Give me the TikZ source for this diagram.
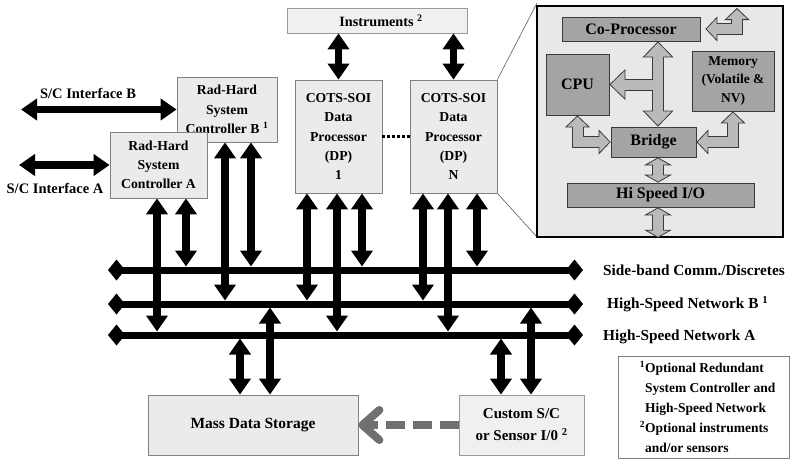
\documentclass[tikz,border=0pt]{standalone}
\usepackage{fontspec}
\setmainfont{Liberation Serif}
\usepackage{xcolor}
\usetikzlibrary{arrows.meta}

\definecolor{boxfill}{HTML}{EBEBEB}
\definecolor{boxline}{HTML}{808080}
\definecolor{softfill}{HTML}{F0F0F0}
\definecolor{softline}{HTML}{9A9A9A}
\definecolor{insetfill}{HTML}{E8E8E8}
\definecolor{cardfill}{HTML}{A4A4A4}
\definecolor{cardline}{HTML}{3A3A3A}
\definecolor{arrowgray}{HTML}{BABABA}
\definecolor{dashgray}{HTML}{707070}

\tikzset{
  bighead/.tip={Triangle[width=31pt,length=16pt,fill=arrowgray,line width=0.8pt]},
  elbhead/.tip={Triangle[width=25pt,length=12pt,fill=arrowgray,line width=0.8pt]},
  lowhead/.tip={Triangle[width=28pt,length=8pt,fill=arrowgray,line width=0.8pt]},
}

\begin{document}
\begin{tikzpicture}[x=1pt, y=-1pt,
  box/.style={draw=boxline, fill=boxfill, line width=0.8pt, align=center, inner sep=0pt,
    font=\fontsize{13.7}{19.2}\selectfont\bfseries},
  card/.style={draw=cardline, fill=cardfill, line width=0.8pt, align=center, inner sep=0pt,
    font=\fontsize{16}{19}\selectfont\bfseries},
  lbl/.style={inner sep=0pt, font=\fontsize{14.5}{17}\selectfont\bfseries},
  buslbl/.style={lbl, anchor=west, font=\fontsize{15.3}{17}\selectfont\bfseries},
  bus/.style={line width=7pt, arrows={Diamond[width=21pt,length=17pt]-Diamond[width=21pt,length=17pt]}},
  link/.style={line width=7.5pt, arrows={Triangle[width=21pt,length=16pt]-Triangle[width=21pt,length=16pt]}},
  blk/.style={draw=cardline, line width=12pt, line join=miter},
  core/.style 2 args={postaction={draw=arrowgray, line width=10pt, arrows=-, shorten <=#1, shorten >=#2}},
  zoomline/.style={draw=black!65, line width=0.6pt},
  dashlink/.style={draw=dashgray, line width=8pt, dash pattern=on 19pt off 8pt,
    -{Straight Barb[length=17pt,width=30pt,round]}},
]
  \useasboundingbox (0,0) rectangle (791,463);

  % Buses
  \coordinate (sbW) at (108,270); \coordinate (sbE) at (583,270);
  \coordinate (nbW) at (108,304); \coordinate (nbE) at (583,304);
  \coordinate (naW) at (108,335); \coordinate (naE) at (583,335);
  \draw[bus] (sbW) -- (sbE);
  \draw[bus] (nbW) -- (nbE);
  \draw[bus] (naW) -- (naE);
  \node[buslbl] (sbLbl) at (603,270) {Side-band Comm./Discretes};
  \node[buslbl] (nbLbl) at (607,304) {High-Speed Network B \textsuperscript{1}};
  \node[buslbl] (naLbl) at (603,337) {High-Speed Network A};

  % Controllers and processors
  \node[box, minimum width=100pt, minimum height=65pt] (ctrlB) at (227,109.5)
    {Rad-Hard\\System\\Controller B \textsuperscript{1}};
  \node[box, minimum width=97pt, minimum height=66pt] (ctrlA) at (158.5,165)
    {Rad-Hard\\System\\Controller A};
  \node[box, minimum width=87pt, minimum height=113pt] (dp1) at (338.5,136.5)
    {COTS-SOI\\Data\\Processor\\(DP)\\1};
  \node[box, minimum width=87pt, minimum height=113pt] (dpN) at (453.5,136.5)
    {COTS-SOI\\Data\\Processor\\(DP)\\N};
  \node[box, draw=softline, fill=softfill, minimum width=180pt, minimum height=25pt,
    font=\fontsize{14.2}{17}\selectfont\bfseries] (instr) at (377,20.5) {\hspace*{8pt}Instruments \textsuperscript{2}};
  \draw[line width=3pt, dash pattern=on 3pt off 2pt] (dp1.east) -- (dpN.west);

  % Interfaces
  \node[lbl] (ifBLbl) at (88,93) {S/C Interface B};
  \node[lbl] (ifALbl) at (55,188) {S/C Interface A};
  \draw[link] (ctrlB.west -| 21,0) -- (ctrlB.west);
  \draw[link] (ctrlA.west -| 19,0) -- (ctrlA.west);

  % Drops onto the buses
  \foreach \x/\from/\to in {157/ctrlA/naW, 186/ctrlA/sbW, 225/ctrlB/nbW, 251/ctrlB/sbW,
      307/dp1/nbW, 337/dp1/naW, 362/dp1/sbW, 423/dpN/nbW, 448/dpN/naW, 477/dpN/sbW}
    \draw[link, shorten >=3.5pt] (\from.south -| \x,0) -- (\to -| \x,0);
  \draw[link] (dp1.north |- instr.south) -- (dp1.north);
  \draw[link] (dpN.north |- instr.south) -- (dpN.north);

  % Storage and custom I/O
  \node[box, minimum width=210pt, minimum height=60pt,
    font=\fontsize{15.5}{19}\selectfont\bfseries] (mass) at (253,425) {Mass Data Storage};
  \node[box, draw=softline, fill=softfill, minimum width=125pt, minimum height=60pt,
    font=\fontsize{15}{22}\selectfont\bfseries] (custom) at (521.5,425)
    {Custom S/C\\or Sensor I/0 \textsuperscript{2}};
  \foreach \x/\to/\bus in {240/mass/naW, 270/mass/nbW, 501/custom/naW, 531/custom/nbW}
    \draw[link, shorten <=3.5pt] (\bus -| \x,0) -- (\to.north -| \x,0);
  \draw[dashlink] (custom.west) -- (mass.east);

  % Processor detail
  \draw[zoomline] (dpN.north east) -- (537,3);
  \draw[zoomline] (dpN.south east) -- (537,237);
  \node[draw=black, line width=1.5pt, fill=insetfill, minimum width=246pt, minimum height=231pt]
    (inset) at (660,121.5) {};
  \node[card, minimum width=138pt, minimum height=24pt] (cop) at (631,29) {Co-Processor};
  \node[card, minimum width=63pt, minimum height=61pt] (cpu) at (577.5,84.5) {CPU};
  \node[card, minimum width=82pt, minimum height=60pt, font=\fontsize{13.5}{18.5}\selectfont\bfseries]
    (mem) at (733,81) {Memory\\(Volatile \&\\NV)};
  \node[card, minimum width=85pt, minimum height=30pt] (bridge) at (653.5,142) {Bridge};
  \node[card, minimum width=187pt, minimum height=24pt] (hsio) at (660.5,195) {Hi Speed I/O};

  \coordinate (tee) at (653,84.5);
  \coordinate (cpTip) at ([xshift=5pt]cop.east);
  \coordinate (cpOut) at (737,8);
  \draw[blk, arrows={bighead-bighead}, core={15pt}{15pt}] (cop.south -| 658,0) -- (bridge.north -| 658,0);
  \draw[blk, arrows={-bighead}, core={-8pt}{15pt}] (tee) -- (cpu.east);
  \draw[blk, arrows={elbhead-elbhead}, core={11pt}{11pt}] (cpu.south) |- (bridge.west);
  \draw[blk, arrows={elbhead-elbhead}, core={11pt}{11pt}] (mem.south) |- (bridge.east);
  \draw[blk, arrows={elbhead-elbhead}, core={11pt}{11pt}] (cpTip) -| (cpOut);
  \draw[blk, arrows={lowhead-lowhead}, core={7pt}{7pt}] (bridge.south -| 658,0) -- (hsio.north -| 658,0);
  \draw[blk, arrows={lowhead-lowhead}, core={7pt}{7pt}] (hsio.south -| 658,0) -- (inset.south -| 658,0);

  % Notes
  \node[draw=boxline, fill=white, line width=0.8pt, minimum width=171pt, minimum height=102pt]
    (note) at (703.5,407) {};
  \node[anchor=west, inner sep=0pt, align=left, font=\fontsize{13.5}{20}\selectfont\bfseries]
    (noteText) at ([xshift=22pt]note.west)
    {\textsuperscript{1}Optional Redundant\\
     \phantom{\textsuperscript{1}}System Controller and\\
     \phantom{\textsuperscript{1}}High-Speed Network\\
     \textsuperscript{2}Optional instruments\\
     \phantom{\textsuperscript{2}}and/or sensors};
\end{tikzpicture}
\end{document}
